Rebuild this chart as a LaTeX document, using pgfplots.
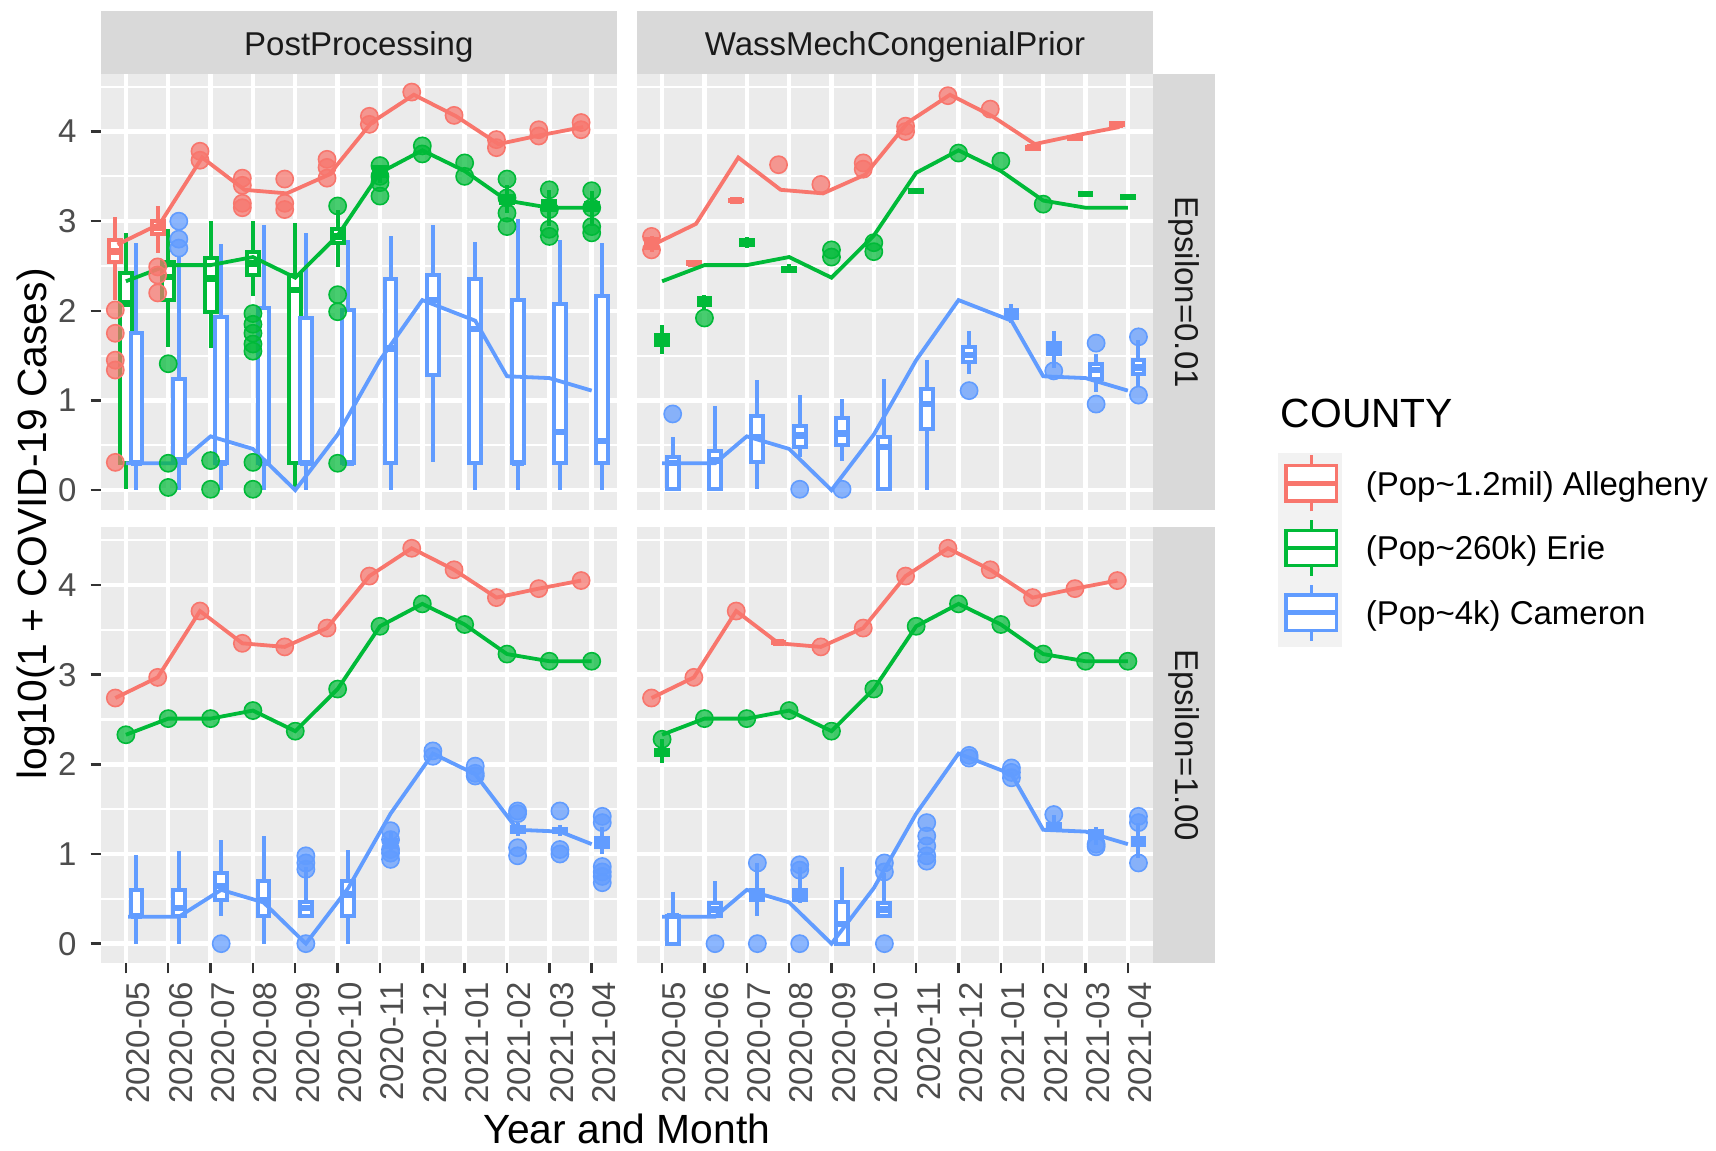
\documentclass[border=0pt]{standalone}
\usepackage{fontspec}
\setmainfont{Liberation Sans}
\usepackage{pgfplots}
\pgfplotsset{compat=1.18}
\usepgfplotslibrary{statistics}
\definecolor{cr}{HTML}{F8766D}
\definecolor{cg}{HTML}{00BA38}
\definecolor{cb}{HTML}{619CFF}
\definecolor{panelbg}{HTML}{EBEBEB}
\definecolor{stripbg}{HTML}{D9D9D9}
\definecolor{keybg}{HTML}{F2F2F2}
\definecolor{g30}{HTML}{4D4D4D}
\definecolor{g20}{HTML}{333333}
\definecolor{g10}{HTML}{1A1A1A}
\newcommand{\smallf}{\fontsize{8.25}{9.9}\selectfont}
\newcommand{\bigf}{\fontsize{10.2}{12.2}\selectfont}
\pgfplotsset{
  boxplot/draw direction=y,
  boxplot/every box/.style={fill=white},
  boxplot/every median/.style={line width=1.6pt},
  panel/.style={
    scale only axis, width=129.15pt, height=109pt, anchor=south west,
    xmin=0.4, xmax=12.6, ymin=-0.221, ymax=4.642,
    axis background/.style={fill=panelbg},
    axis line style={draw=none},
    xtick={1,...,12}, ytick={0,1,2,3,4},
    minor ytick={0.5,1.5,2.5,3.5,4.5},
    grid=both,
    major grid style={white, line width=1.1pt},
    minor grid style={white, line width=0.55pt},
    tick align=outside,
    major tick length=2.5pt, minor tick length=0pt,
    tick style={g20, line width=0.6pt},
    xtick pos=left, ytick pos=left,
    /pgf/number format/assume math mode=true,
    yticklabel style={font=\smallf, text=g30},
    xticklabel style={font=\smallf, text=g30, yshift=-2pt, rotate=90, anchor=north east, inner sep=0pt},
  }
}
\newcommand{\bp}[7]{\addplot[#1, line width=1pt, boxplot prepared={draw position=#2, lower whisker=#3, lower quartile=#4, median=#5, upper quartile=#6, upper whisker=#7, box extend=0.28, whisker extend=0}] coordinates {};}
\newcommand{\pts}[2]{\addplot[only marks, color=#1, mark=*, mark size=2.15pt, mark options={draw=none, fill=#1, fill opacity=0.72}] coordinates {#2};}
\newcommand{\tl}[2]{\addplot[#1, line width=0.95pt] coordinates {#2};}
\begin{document}
\begin{tikzpicture}
\useasboundingbox (0,0) rectangle (429pt,287.75pt);
% ---------------- top-left: PostProcessing, Epsilon=0.01
\begin{axis}[panel, at={(25.125pt,160.25pt)}, xticklabels={}, xtick style={draw=none}, yticklabels={0,1,2,3,4}]
\bp{cr}{0.75}{2.12}{2.55}{2.66}{2.79}{3.05}
\bp{cr}{1.75}{2.64}{2.86}{2.93}{3.00}{3.17}
\bp{cg}{1}{0.01}{0.30}{2.08}{2.42}{2.87}
\bp{cg}{2}{1.60}{2.12}{2.38}{2.55}{2.91}
\bp{cg}{3}{1.58}{1.99}{2.36}{2.59}{3.00}
\bp{cg}{4}{2.16}{2.40}{2.53}{2.66}{3.00}
\bp{cg}{5}{0.00}{0.30}{2.23}{2.40}{2.98}
\bp{cg}{6}{2.49}{2.76}{2.83}{2.91}{3.12}
\bp{cg}{7}{3.43}{3.50}{3.55}{3.60}{3.62}
\bp{cg}{10}{3.09}{3.20}{3.24}{3.28}{3.40}
\bp{cg}{11}{2.95}{3.13}{3.17}{3.22}{3.35}
\bp{cg}{12}{2.95}{3.12}{3.16}{3.20}{3.34}
\bp{cb}{1.25}{0}{0.30}{0.30}{1.75}{2.76}
\bp{cb}{2.25}{0}{0.30}{0.33}{1.24}{2.60}
\bp{cb}{3.25}{0}{0.30}{0.30}{1.93}{2.74}
\bp{cb}{4.25}{0}{0.30}{0.30}{2.03}{2.96}
\bp{cb}{5.25}{0}{0.30}{0.30}{1.92}{2.87}
\bp{cb}{6.25}{0.30}{0.30}{0.30}{2.01}{2.79}
\bp{cb}{7.25}{0}{0.30}{1.58}{2.35}{2.83}
\bp{cb}{8.25}{0.31}{1.28}{2.12}{2.40}{2.96}
\bp{cb}{9.25}{0}{0.30}{1.80}{2.35}{2.77}
\bp{cb}{10.25}{0}{0.30}{0.30}{2.12}{3.02}
\bp{cb}{11.25}{0}{0.30}{0.65}{2.08}{2.79}
\bp{cb}{12.25}{0}{0.30}{0.55}{2.16}{2.76}
\tl{cr}{(0.8,2.74)(1.8,2.97)(2.8,3.71)(3.8,3.35)(4.8,3.31)(5.8,3.52)(6.8,4.10)(7.8,4.41)(8.8,4.17)(9.8,3.86)(10.8,3.96)(11.8,4.05)}
\tl{cg}{(1,2.33)(2,2.51)(3,2.51)(4,2.60)(5,2.37)(6,2.84)(7,3.54)(8,3.79)(9,3.56)(10,3.23)(11,3.15)(12,3.15)}
\tl{cb}{(1,0.30)(2.25,0.30)(3,0.60)(4,0.46)(5,0.0)(6,0.62)(7,1.45)(8,2.12)(9.25,1.89)(10,1.27)(11,1.25)(12,1.11)}
\pts{cr}{(0.75,2.01)(0.75,1.75)(0.75,1.45)(0.75,1.34)(0.75,0.31)(1.75,2.49)(1.75,2.40)(1.75,2.20)(2.75,3.78)(2.75,3.68)(3.75,3.48)(3.75,3.40)(3.75,3.20)(3.75,3.15)(4.75,3.47)(4.75,3.20)(4.75,3.13)(5.75,3.69)(5.75,3.60)(5.75,3.48)(6.75,4.17)(6.75,4.08)(7.75,4.44)(8.75,4.18)(9.75,3.91)(9.75,3.82)(10.75,4.02)(10.75,3.95)(11.75,4.10)(11.75,4.02)}
\pts{cg}{(2,1.41)(2,0.30)(2,0.03)(3,0.33)(3,0.01)(4,1.97)(4,1.85)(4,1.75)(4,1.63)(4,1.55)(4,0.31)(4,0.01)(6,3.17)(6,2.18)(6,1.99)(6,0.30)(7,3.62)(7,3.50)(7,3.43)(7,3.28)(8,3.84)(8,3.75)(9,3.65)(9,3.50)(10,3.47)(10,3.26)(10,3.09)(10,2.94)(11,3.35)(11,3.13)(11,2.91)(11,2.83)(12,3.34)(12,3.15)(12,2.94)(12,2.87)}
\pts{cb}{(2.25,3.00)(2.25,2.80)(2.25,2.70)}
\end{axis}
% ---------------- top-right: WassMechCongenialPrior, Epsilon=0.01
\begin{axis}[panel, at={(159.175pt,160.25pt)}, xticklabels={}, xtick style={draw=none}, yticklabels={}, ytick style={draw=none}]
\bp{cr}{0.75}{2.66}{2.70}{2.74}{2.80}{2.83}
\bp{cr}{1.75}{2.51}{2.52}{2.53}{2.54}{2.55}
\bp{cr}{2.75}{3.21}{3.22}{3.23}{3.24}{3.25}
\bp{cr}{9.75}{3.80}{3.81}{3.82}{3.83}{3.84}
\bp{cr}{10.75}{3.91}{3.92}{3.93}{3.94}{3.95}
\bp{cr}{11.75}{4.06}{4.07}{4.08}{4.09}{4.10}
\bp{cg}{1}{1.52}{1.62}{1.67}{1.73}{1.84}
\bp{cg}{2}{2.02}{2.07}{2.10}{2.14}{2.18}
\bp{cg}{3}{2.70}{2.73}{2.76}{2.79}{2.82}
\bp{cg}{4}{2.42}{2.44}{2.46}{2.48}{2.52}
\bp{cg}{7}{3.32}{3.33}{3.34}{3.35}{3.36}
\bp{cg}{11}{3.28}{3.29}{3.30}{3.31}{3.32}
\bp{cg}{12}{3.25}{3.26}{3.27}{3.28}{3.29}
\bp{cb}{1.25}{0.00}{0.01}{0.30}{0.37}{0.59}
\bp{cb}{2.25}{0.00}{0.01}{0.33}{0.44}{0.94}
\bp{cb}{3.25}{0.01}{0.31}{0.59}{0.83}{1.23}
\bp{cb}{4.25}{0.37}{0.48}{0.61}{0.72}{1.06}
\bp{cb}{5.25}{0.33}{0.50}{0.63}{0.80}{1.02}
\bp{cb}{6.25}{0.01}{0.01}{0.48}{0.59}{1.24}
\bp{cb}{7.25}{0.00}{0.68}{0.96}{1.13}{1.45}
\bp{cb}{8.25}{1.30}{1.43}{1.51}{1.60}{1.78}
\bp{cb}{9.25}{1.86}{1.92}{1.95}{2.01}{2.08}
\bp{cb}{10.25}{1.36}{1.52}{1.58}{1.64}{1.77}
\bp{cb}{11.25}{1.09}{1.24}{1.34}{1.41}{1.52}
\bp{cb}{12.25}{1.15}{1.30}{1.37}{1.45}{1.67}
\tl{cr}{(0.8,2.74)(1.8,2.97)(2.8,3.71)(3.8,3.35)(4.8,3.31)(5.8,3.52)(6.8,4.10)(7.8,4.41)(8.8,4.17)(9.8,3.86)(10.8,3.96)(11.8,4.05)}
\tl{cg}{(1,2.33)(2,2.51)(3,2.51)(4,2.60)(5,2.37)(6,2.84)(7,3.54)(8,3.79)(9,3.56)(10,3.23)(11,3.15)(12,3.15)}
\tl{cb}{(1,0.30)(2.25,0.30)(3,0.60)(4,0.46)(5,0.0)(6,0.62)(7,1.45)(8,2.12)(9.25,1.89)(10,1.27)(11,1.25)(12,1.11)}
\pts{cr}{(0.75,2.83)(0.75,2.68)(3.75,3.63)(4.75,3.41)(5.75,3.65)(5.75,3.58)(6.75,4.06)(6.75,4.00)(7.75,4.40)(8.75,4.25)}
\pts{cg}{(2,1.92)(5,2.68)(5,2.60)(6,2.76)(6,2.66)(8,3.76)(9,3.67)(10,3.19)}
\pts{cb}{(1.25,0.85)(4.25,0.01)(5.25,0.01)(8.25,1.11)(10.25,1.33)(11.25,1.64)(11.25,0.96)(12.25,1.71)(12.25,1.06)}
\end{axis}
% ---------------- bottom-left: PostProcessing, Epsilon=1.00
\begin{axis}[panel, at={(25.125pt,46.875pt)}, yticklabels={0,1,2,3,4},
  xticklabels={2020-05,2020-06,2020-07,2020-08,2020-09,2020-10,2020-11,2020-12,2021-01,2021-02,2021-03,2021-04}]
\bp{cb}{1.25}{0}{0.31}{0.31}{0.60}{0.99}
\bp{cb}{2.25}{0}{0.31}{0.40}{0.60}{1.03}
\bp{cb}{3.25}{0.31}{0.49}{0.64}{0.79}{1.16}
\bp{cb}{4.25}{0}{0.31}{0.49}{0.70}{1.20}
\bp{cb}{5.25}{0.31}{0.31}{0.40}{0.47}{0.86}
\bp{cb}{6.25}{0}{0.31}{0.55}{0.70}{1.05}
\bp{cb}{7.25}{1.05}{1.08}{1.12}{1.16}{1.26}
\bp{cb}{10.25}{1.20}{1.24}{1.27}{1.30}{1.35}
\bp{cb}{11.25}{1.20}{1.24}{1.26}{1.28}{1.32}
\bp{cb}{12.25}{1.00}{1.08}{1.12}{1.18}{1.30}
\tl{cr}{(0.75,2.74)(1.75,2.97)(2.75,3.71)(3.75,3.35)(4.75,3.31)(5.75,3.52)(6.75,4.10)(7.75,4.41)(8.75,4.17)(9.75,3.86)(10.75,3.96)(11.75,4.05)}
\tl{cg}{(1,2.33)(2,2.51)(3,2.51)(4,2.60)(5,2.37)(6,2.84)(7,3.54)(8,3.79)(9,3.56)(10,3.23)(11,3.15)(12,3.15)}
\tl{cb}{(1.05,0.30)(2.25,0.30)(3.25,0.60)(4.25,0.46)(5.25,0.0)(6.25,0.62)(7.25,1.45)(8.25,2.12)(9.25,1.89)(10.25,1.27)(11.25,1.25)(12,1.11)}
\pts{cr}{(0.75,2.74)(1.75,2.97)(2.75,3.71)(3.75,3.35)(4.75,3.31)(5.75,3.52)(6.75,4.10)(7.75,4.41)(8.75,4.17)(9.75,3.86)(10.75,3.96)(11.75,4.05)}
\pts{cg}{(1,2.33)(2,2.51)(3,2.51)(4,2.60)(5,2.37)(6,2.84)(7,3.54)(8,3.79)(9,3.56)(10,3.23)(11,3.15)(12,3.15)}
\pts{cb}{(3.25,0)(5.25,0.98)(5.25,0.90)(5.25,0.83)(5.25,0)(7.25,1.26)(7.25,1.16)(7.25,1.05)(7.25,1.01)(7.25,0.94)(8.25,2.15)(8.25,2.09)(9.25,1.98)(9.25,1.90)(9.25,1.87)(10.25,1.48)(10.25,1.45)(10.25,1.07)(10.25,0.98)(11.25,1.48)(11.25,1.05)(11.25,1.00)(12.25,1.42)(12.25,1.35)(12.25,0.86)(12.25,0.80)(12.25,0.75)(12.25,0.68)}
\end{axis}
% ---------------- bottom-right: WassMechCongenialPrior, Epsilon=1.00
\begin{axis}[panel, at={(159.175pt,46.875pt)}, yticklabels={}, ytick style={draw=none},
  xticklabels={2020-05,2020-06,2020-07,2020-08,2020-09,2020-10,2020-11,2020-12,2021-01,2021-02,2021-03,2021-04}]
\bp{cr}{3.75}{3.34}{3.35}{3.36}{3.37}{3.38}
\bp{cg}{1}{2.02}{2.10}{2.13}{2.16}{2.28}
\bp{cb}{1.25}{0}{0}{0.31}{0.31}{0.58}
\bp{cb}{2.25}{0.31}{0.31}{0.38}{0.45}{0.70}
\bp{cb}{3.25}{0.31}{0.49}{0.55}{0.60}{0.90}
\bp{cb}{4.25}{0.45}{0.49}{0.55}{0.60}{0.86}
\bp{cb}{5.25}{0}{0}{0.22}{0.47}{0.85}
\bp{cb}{6.25}{0.31}{0.31}{0.38}{0.45}{0.79}
\bp{cb}{10.25}{1.25}{1.28}{1.31}{1.34}{1.44}
\bp{cb}{11.25}{1.10}{1.18}{1.22}{1.26}{1.30}
\bp{cb}{12.25}{0.95}{1.10}{1.14}{1.18}{1.35}
\tl{cr}{(0.75,2.74)(1.75,2.97)(2.75,3.71)(3.75,3.35)(4.75,3.31)(5.75,3.52)(6.75,4.10)(7.75,4.41)(8.75,4.17)(9.75,3.86)(10.75,3.96)(11.75,4.05)}
\tl{cg}{(1,2.33)(2,2.51)(3,2.51)(4,2.60)(5,2.37)(6,2.84)(7,3.54)(8,3.79)(9,3.56)(10,3.23)(11,3.15)(12,3.15)}
\tl{cb}{(1,0.30)(2.25,0.30)(3,0.60)(4,0.46)(5,0.0)(6,0.62)(7,1.45)(8,2.12)(9.25,1.89)(10,1.27)(11,1.25)(12,1.11)}
\pts{cr}{(0.75,2.74)(1.75,2.97)(2.75,3.71)(4.75,3.31)(5.75,3.52)(6.75,4.10)(7.75,4.41)(8.75,4.17)(9.75,3.86)(10.75,3.96)(11.75,4.05)}
\pts{cg}{(1,2.28)(2,2.51)(3,2.51)(4,2.60)(5,2.37)(6,2.84)(7,3.54)(8,3.79)(9,3.56)(10,3.23)(11,3.15)(12,3.15)}
\pts{cb}{(2.25,0)(3.25,0.90)(3.25,0)(4.25,0.88)(4.25,0.82)(4.25,0)(6.25,0.90)(6.25,0.80)(6.25,0)(7.25,1.35)(7.25,1.20)(7.25,1.09)(7.25,0.98)(7.25,0.92)(8.25,2.07)(8.25,2.10)(9.25,1.96)(9.25,1.91)(9.25,1.85)(10.25,1.44)(11.25,1.11)(11.25,1.08)(12.25,1.42)(12.25,1.35)(12.25,0.90)}
\end{axis}
% ---------------- strips
\fill[stripbg] (25.125pt,269.25pt) rectangle (154.275pt,285pt);
\fill[stripbg] (159.175pt,269.25pt) rectangle (288.325pt,285pt);
\fill[stripbg] (288.325pt,160.25pt) rectangle (303.75pt,269.25pt);
\fill[stripbg] (288.325pt,46.875pt) rectangle (303.75pt,155.875pt);
\node[font=\smallf, text=g10, anchor=base, inner sep=0pt] at (89.7pt,273.85pt) {PostProcessing};
\node[font=\smallf, text=g10, anchor=base, inner sep=0pt] at (223.75pt,273.85pt) {WassMechCongenialPrior};
\node[font=\smallf, text=g10, rotate=-90, inner sep=0pt] at (296.04pt,214.75pt) {Epsilon=0.01};
\node[font=\smallf, text=g10, rotate=-90, inner sep=0pt] at (296.04pt,101.375pt) {Epsilon=1.00};
% ---------------- axis titles
\node[font=\bigf, anchor=base, inner sep=0pt] at (156.75pt,1.9pt) {Year and Month};
\node[font=\bigf, rotate=90, inner sep=0pt] at (9.1pt,156.75pt) {log10(1 + COVID-19 Cases)};
% ---------------- legend
\node[font=\bigf, anchor=base west, inner sep=0pt] at (320pt,180.75pt) {COUNTY};
\fill[keybg] (319.575pt,126.075pt) rectangle (335.425pt,174.425pt);
\begin{scope}[x=1pt,y=1pt,line width=0.8pt]
\draw[cr] (327.85,159.9) -- (327.85,173.9);
\filldraw[cr, fill=white] (321.5,162.5) rectangle (334.2,171.3);
\draw[cr, line width=1.2pt] (321.5,166.9) -- (334.2,166.9);
\draw[cg] (327.85,143.75) -- (327.85,157.75);
\filldraw[cg, fill=white] (321.5,146.35) rectangle (334.2,155.15);
\draw[cg, line width=1.2pt] (321.5,150.75) -- (334.2,150.75);
\draw[cb] (327.85,127.6) -- (327.85,141.6);
\filldraw[cb, fill=white] (321.5,130.2) rectangle (334.2,139.0);
\draw[cb, line width=1.2pt] (321.5,134.6) -- (334.2,134.6);
\end{scope}
\node[font=\smallf, anchor=base west, inner sep=0pt] at (341.25pt,163.95pt) {(Pop\textasciitilde1.2mil) Allegheny};
\node[font=\smallf, anchor=base west, inner sep=0pt] at (341.25pt,147.8pt) {(Pop\textasciitilde260k) Erie};
\node[font=\smallf, anchor=base west, inner sep=0pt] at (341.25pt,131.65pt) {(Pop\textasciitilde4k) Cameron};
\end{tikzpicture}
\end{document}
